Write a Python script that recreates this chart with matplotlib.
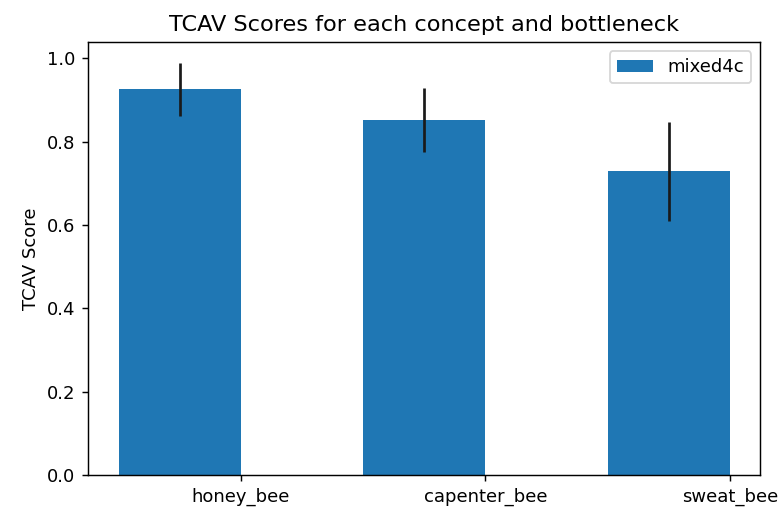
import numpy as np
import matplotlib
matplotlib.use("Agg")
import matplotlib.pyplot as plt

concepts = ["honey_bee", "capenter_bee", "sweat_bee"]
bottleneck = "mixed4c"
scores = [0.926, 0.853, 0.729]
stds = [0.064, 0.077, 0.119]

bar_width = 0.35
num_bottlenecks = 1
index = np.arange(len(concepts)) * bar_width * (num_bottlenecks + 1)

DPI = 130
fig = plt.figure(figsize=(779 / DPI, 512 / DPI), dpi=DPI)
ax = fig.add_axes([0.113, 0.072, 0.863, 0.846])
ax.bar(index, scores, bar_width, yerr=stds, label=bottleneck,
       error_kw=dict(ecolor="#1a1a1a"))
ax.set_xticks(index + num_bottlenecks * bar_width / 2)
ax.set_xticklabels(concepts)
ax.set_ylabel("TCAV Score")
ax.set_title("TCAV Scores for each concept and bottleneck", fontsize=12.4)
ax.legend(loc="upper right")
fig.savefig("out.png", dpi=DPI)
